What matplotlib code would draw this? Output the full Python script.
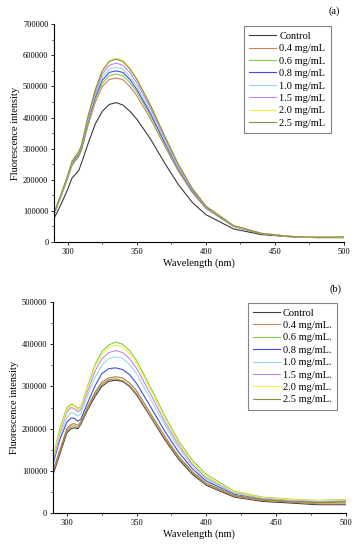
import matplotlib
matplotlib.use('Agg')
import matplotlib.pyplot as plt
from matplotlib.ticker import MultipleLocator

plt.rcParams['font.family'] = ['Liberation Serif', 'DejaVu Serif']

## data (intensity in thousands)
wl = [290, 295, 300, 303, 305, 308, 310, 315, 320, 325, 330, 335, 340,
      345, 350, 360, 370, 380, 390, 400, 420, 440, 460, 480, 500]

labels = ['Control', '0.4 mg/mL', '0.6 mg/mL', '0.8 mg/mL',
          '1.0 mg/mL', '1.5 mg/mL', '2.0 mg/mL', '2.5 mg/mL']
labels_b = ['Control', '0.4 mg/mL.', '0.6 mg/mL.', '0.8 mg/mL.',
            '1.0 mg/mL.', '1.5 mg/mL.', '2.0 mg/mL.', '2.5 mg/mL.']
colors = ['#3a3a3a', '#c8845a', '#86cc50', '#4848e0',
          '#98d6f0', '#c284f0', '#f2f040', '#8c8c3c']

# panel (a)
a_control = [75, 120, 170, 205, 215, 230, 255, 320, 380, 420, 442, 448, 440, 420, 395, 330, 255, 185, 128, 88, 42, 24, 17, 14, 14]
a_04 = [88, 145, 205, 245, 258, 275, 295, 380, 450, 500, 522, 527, 522, 500, 470, 395, 310, 228, 160, 108, 50, 27, 18, 15, 15]
a_06 = [88, 145, 207, 248, 262, 280, 300, 388, 460, 510, 535, 540, 535, 512, 482, 405, 318, 234, 164, 110, 51, 27, 18, 15, 15]
a_08 = [90, 148, 210, 250, 265, 283, 305, 393, 468, 520, 545, 550, 545, 522, 490, 412, 322, 236, 165, 111, 51, 27, 18, 15, 16]
a_10 = [90, 148, 210, 252, 268, 285, 308, 398, 475, 530, 555, 562, 555, 532, 500, 420, 328, 240, 168, 112, 52, 28, 18, 15, 16]
a_15 = [92, 150, 213, 255, 270, 288, 310, 403, 482, 540, 568, 575, 568, 545, 512, 430, 335, 245, 170, 114, 52, 28, 18, 15, 16]
a_20 = [92, 152, 215, 258, 272, 290, 313, 410, 492, 552, 582, 590, 583, 558, 525, 440, 343, 250, 174, 116, 53, 28, 18, 15, 16]
a_25 = [92, 152, 215, 258, 272, 290, 313, 410, 490, 550, 580, 588, 580, 556, 523, 438, 342, 250, 173, 115, 53, 28, 18, 15, 16]

# panel (b)
b_control = [90, 140, 190, 200, 202, 200, 210, 245, 275, 300, 312, 315, 312, 300, 280, 228, 175, 128, 92, 66, 38, 28, 24, 20, 20]
b_04 = [95, 145, 195, 205, 207, 203, 212, 248, 280, 305, 316, 318, 314, 302, 283, 230, 178, 131, 95, 68, 40, 30, 26, 22, 22]
b_06 = [132, 200, 250, 258, 256, 248, 252, 302, 350, 382, 398, 405, 400, 385, 362, 298, 232, 172, 125, 92, 52, 38, 33, 30, 32]
b_08 = [115, 175, 215, 225, 225, 218, 222, 262, 300, 330, 342, 344, 340, 328, 307, 252, 195, 145, 105, 76, 45, 34, 29, 27, 28]
b_10 = [120, 185, 225, 238, 236, 230, 235, 280, 320, 350, 366, 370, 366, 352, 330, 270, 210, 155, 112, 80, 47, 35, 30, 28, 29]
b_15 = [125, 190, 240, 250, 248, 240, 245, 290, 335, 365, 380, 385, 380, 366, 343, 282, 218, 162, 116, 84, 49, 36, 31, 29, 30]
b_20 = [130, 195, 245, 255, 254, 245, 250, 298, 345, 375, 392, 398, 393, 378, 355, 292, 226, 167, 120, 87, 50, 37, 32, 30, 31]
b_25 = [100, 150, 200, 210, 212, 208, 216, 252, 285, 310, 320, 323, 320, 308, 290, 236, 183, 135, 98, 71, 42, 32, 27, 25, 26]

series_a = [a_control, a_04, a_06, a_08, a_10, a_15, a_20, a_25]
series_b = [b_control, b_04, b_06, b_08, b_10, b_15, b_20, b_25]


def draw(ax, series, names, ymax, tag, legend_box):
    for vals, name, c in zip(series, names, colors):
        ax.plot(wl, [v * 1000 for v in vals], color=c, lw=0.8, label=name)
    ax.set_xlim(290, 500)
    ax.set_ylim(0, ymax)
    ax.xaxis.set_major_locator(MultipleLocator(50))
    ax.xaxis.set_minor_locator(MultipleLocator(25))
    ax.yaxis.set_major_locator(MultipleLocator(100000))
    ax.yaxis.set_minor_locator(MultipleLocator(50000))
    ax.spines['top'].set_visible(False)
    ax.spines['right'].set_visible(False)
    ax.tick_params(labelsize=6, length=2.5, width=0.6, pad=1.5)
    ax.tick_params(which='minor', length=1.5, width=0.5)
    ax.set_xlabel('Wavelength (nm)', fontsize=7.5, labelpad=2)
    ax.set_ylabel('Fluorescence intensity', fontsize=7.5, labelpad=2)
    leg = ax.legend(loc='upper left', bbox_to_anchor=legend_box, fontsize=7.5,
                    frameon=True, fancybox=False, edgecolor='#666666',
                    handlelength=2.6, handletextpad=0.3, labelspacing=0.3,
                    borderpad=0.5, borderaxespad=0)
    leg.get_frame().set_linewidth(0.8)
    ax.text(0.985, 1.06, tag, transform=ax.transAxes, ha='right', va='center',
            fontsize=7.5)


fig = plt.figure(figsize=(3.55, 5.5), dpi=100)
ax1 = fig.add_axes([0.152, 0.56, 0.817, 0.396])
ax2 = fig.add_axes([0.149, 0.067, 0.825, 0.384])

draw(ax1, series_a, labels, 700000, '(a)', (0.655, 0.99))
draw(ax2, series_b, labels_b, 500000, '(b)', (0.665, 0.995))

fig.savefig('out.png', dpi=100)
